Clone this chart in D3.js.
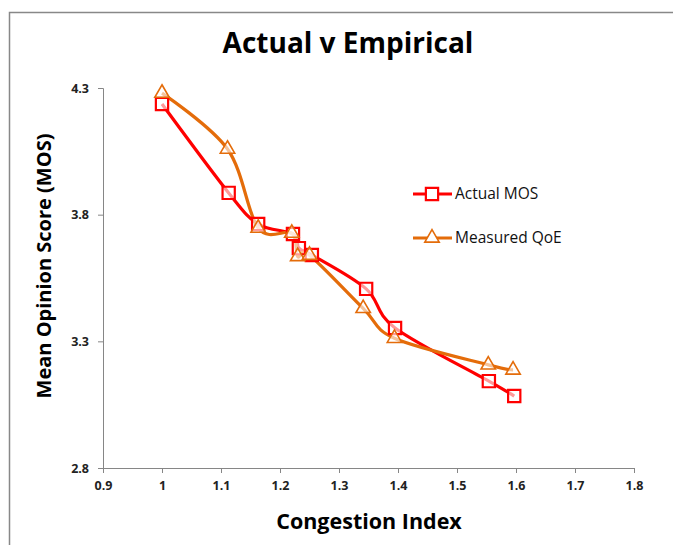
<!DOCTYPE html>
<html><head><meta charset="utf-8">
<script src="https://cdn.jsdelivr.net/npm/d3@7"></script>
<style>body{margin:0;background:#fff}svg{display:block}</style>
</head><body>
<svg id="c" width="673" height="545"></svg>
<script>
const actualX = [1.0, 1.113, 1.163, 1.222, 1.232, 1.254, 1.346, 1.395, 1.554, 1.597];
const actualY = [4.237, 3.886, 3.763, 3.724, 3.668, 3.641, 3.507, 3.353, 3.143, 3.084];
const measuredX = [1.0, 1.111, 1.163, 1.220, 1.230, 1.250, 1.341, 1.394, 1.553, 1.595];
const measuredY = [4.28, 4.059, 3.747, 3.727, 3.635, 3.64, 3.43, 3.312, 3.207, 3.187];
const xTicks = [0.9, 1.0, 1.1, 1.2, 1.3, 1.4, 1.5, 1.6, 1.7, 1.8];
const yTicks = [2.8, 3.3, 3.8, 4.3];
const seriesNames = ["Actual MOS", "Measured QoE"];

const svg = d3.select("#c");
const font = "'Open Sans', sans-serif";
svg.append("rect").attr("x", 9.5).attr("y", 12.5).attr("width", 700).attr("height", 600)
  .attr("fill", "#fff").attr("stroke", "#888").attr("stroke-width", 1.5);

const x = d3.scaleLinear().domain([0.9, 1.8]).range([103, 634]);
const y = d3.scaleLinear().domain([2.8, 4.3]).range([468, 88]);

const xa = svg.append("g").attr("transform", "translate(0,468)")
  .call(d3.axisBottom(x).tickValues(xTicks).tickSize(5).tickPadding(8).tickFormat(d3.format("")));
const ya = svg.append("g").attr("transform", "translate(103,0)")
  .call(d3.axisLeft(y).tickValues(yTicks).tickSize(5).tickPadding(9).tickFormat(d3.format(".1f")));
[xa, ya].forEach(a => {
  a.selectAll("path,line").attr("stroke", "#868686");
  a.selectAll("text").attr("font-family", font).attr("font-weight", "bold")
    .attr("font-size", 12.5).attr("fill", "#222");
});

svg.append("text").attr("x", 348).attr("y", 53).attr("text-anchor", "middle")
  .attr("font-family", font).attr("font-weight", "bold").attr("font-size", 28).text("Actual v Empirical");
svg.append("text").attr("x", 369).attr("y", 529).attr("text-anchor", "middle")
  .attr("font-family", font).attr("font-weight", "bold").attr("font-size", 21.5).text("Congestion Index");
svg.append("text").attr("transform", "translate(51,266) rotate(-90)").attr("text-anchor", "middle")
  .attr("font-family", font).attr("font-weight", "bold").attr("font-size", 20).text("Mean Opinion Score (MOS)");

const line = d3.line().x(d => x(d[0])).y(d => y(d[1])).curve(d3.curveCatmullRom.alpha(0));
const actual = actualX.map((v, i) => [v, actualY[i]]);
const measured = measuredX.map((v, i) => [v, measuredY[i]]);
const red = "#FF0000", orange = "#E46C0A";

svg.append("path").datum(actual).attr("d", line).attr("fill", "none").attr("stroke", red).attr("stroke-width", 3.2);
svg.append("path").datum(measured).attr("d", line).attr("fill", "none").attr("stroke", orange).attr("stroke-width", 3.2);

const sq = d3.symbol().type(d3.symbolSquare).size(150);
const tri = d3.symbol().type(d3.symbolTriangle).size(90);
svg.selectAll(".sq").data(actual).join("path").attr("d", sq)
  .attr("transform", d => `translate(${x(d[0])},${y(d[1])})`)
  .attr("fill", "#fff").attr("fill-opacity", 0.6).attr("stroke", red).attr("stroke-width", 2.2);
svg.selectAll(".tr").data(measured).join("path").attr("d", tri)
  .attr("transform", d => `translate(${x(d[0])},${y(d[1])})`)
  .attr("fill", "#fff").attr("fill-opacity", 0.6).attr("stroke", orange).attr("stroke-width", 1.6);

// legend
const lg = svg.append("g");
[[194, red, sq, 2.2], [238, orange, tri, 1.6]].forEach((r, i) => {
  lg.append("line").attr("x1", 413).attr("x2", 452).attr("y1", r[0]).attr("y2", r[0])
    .attr("stroke", r[1]).attr("stroke-width", 3.2);
  lg.append("path").attr("d", r[2]).attr("transform", `translate(432,${r[0]})`)
    .attr("fill", "#fff").attr("stroke", r[1]).attr("stroke-width", r[3]);
  lg.append("text").attr("x", 455).attr("y", r[0] + 5).attr("font-family", font)
    .attr("font-size", 15.5).attr("fill", "#111").text(seriesNames[i]);
});
</script>
</body></html>
